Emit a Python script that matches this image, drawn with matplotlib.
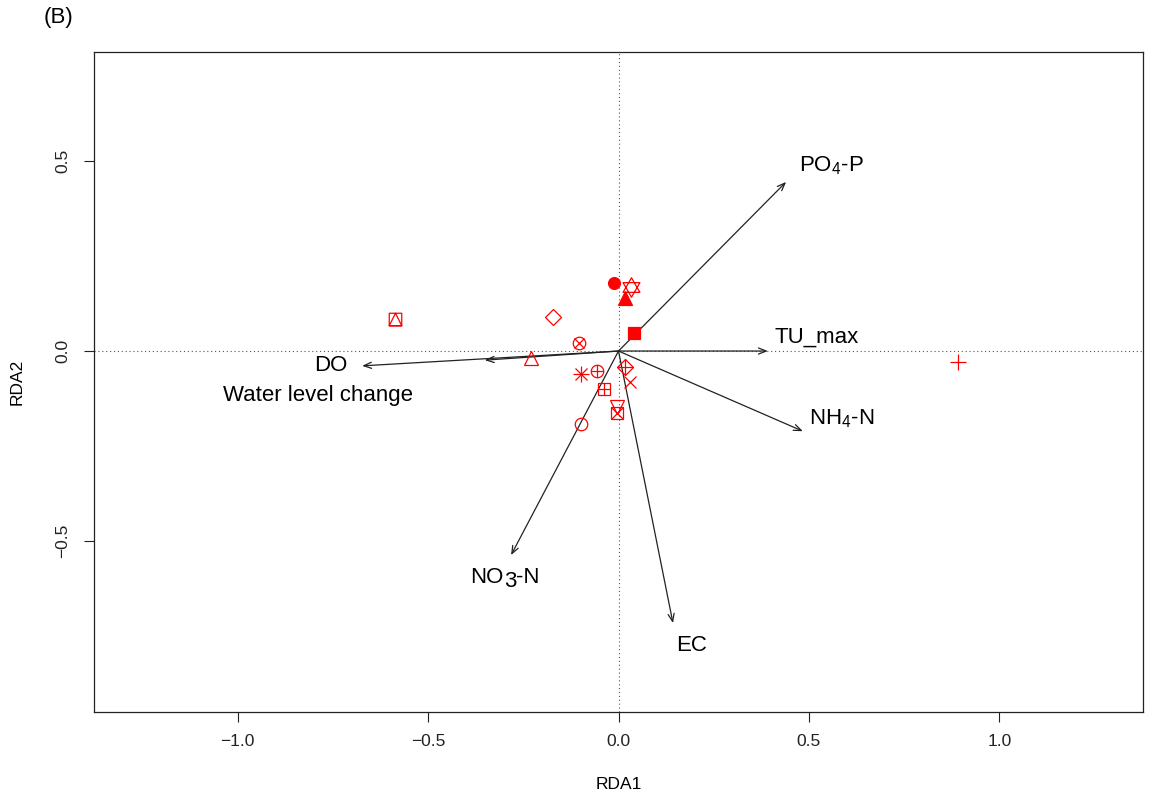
import numpy as np
import matplotlib
matplotlib.use("Agg")
import matplotlib.pyplot as plt
from matplotlib.path import Path
from matplotlib.font_manager import FontProperties

plt.rcParams['font.family'] = ['Liberation Sans', 'DejaVu Sans']
plt.rcParams['mathtext.fontset'] = 'custom'
plt.rcParams['mathtext.rm'] = 'Liberation Sans'
plt.rcParams['mathtext.it'] = 'Liberation Sans:italic'
plt.rcParams['axes.unicode_minus'] = True

# ---------------- data ----------------
# site scores (RDA1, RDA2) and R pch symbol codes
site_x = [-0.587, -0.172, -0.104, -0.230, -0.098, -0.056, -0.038, -0.098,
          0.017, 0.030, -0.004, -0.004, -0.012, 0.033, 0.017, 0.041, 0.891]
site_y = [0.084, 0.089, 0.021, -0.018, -0.061, -0.053, -0.100, -0.192,
          -0.042, -0.082, -0.147, -0.163, 0.179, 0.168, 0.139, 0.047, -0.029]
site_pch = [14, 5, 13, 2, 8, 10, 12, 1, 9, 4, 6, 7, 16, 11, 17, 15, 3]

# environmental vectors (arrow tips)
env_names = ["PO$_4$-P", "TU_max", "NH$_4$-N", "EC", "NO3-N", "DO", "Water level change"]
env_x = [0.440, 0.392, 0.484, 0.143, -0.282, -0.673, -0.351]
env_y = [0.445, 0.000, -0.211, -0.716, -0.537, -0.039, -0.024]

x_ticks = [-1.0, -0.5, 0.0, 0.5, 1.0]
y_ticks = [-0.5, 0.0, 0.5]

# label anchor positions (layout)
lab_pos = [(0.560, 0.489), (0.521, 0.037), (0.586, -0.179), (0.193, -0.776),
           (-0.298, -0.597), (-0.755, -0.039), (-0.789, -0.116)]

# ---------------- figure ----------------
W, H, DPI = 1157, 797, 100
fig = plt.figure(figsize=(W / DPI, H / DPI), dpi=DPI)
ax = fig.add_axes([94 / W, 1 - 712 / H, (1143 - 94) / W, (712 - 52) / H])
ax.set_xlim(-1.377, 1.377)
ax.set_ylim(-0.95, 0.787)

# reference lines
ax.axhline(0, color='#555555', lw=0.8, ls=(0, (1, 2.5)), zorder=1)
ax.axvline(0, color='#555555', lw=0.8, ls=(0, (1, 2.5)), zorder=1)

# custom marker paths
sq = [(-1, -1), (1, -1), (1, 1), (-1, 1), (-1, -1)]
tri_in_sq = [(-1, -1), (0, 1), (1, -1), (-1, -1)]
pch14 = Path(sq + tri_in_sq,
             [Path.MOVETO] + [Path.LINETO] * 3 + [Path.CLOSEPOLY] +
             [Path.MOVETO] + [Path.LINETO] * 2 + [Path.CLOSEPOLY])
h = np.sqrt(3) / 2
up = [(0, 1), (-h, -0.5), (h, -0.5), (0, 1)]
dn = [(0, -1), (-h, 0.5), (h, 0.5), (0, -1)]
pch11 = Path(up + dn,
             [Path.MOVETO] + [Path.LINETO] * 2 + [Path.CLOSEPOLY] +
             [Path.MOVETO] + [Path.LINETO] * 2 + [Path.CLOSEPOLY])

RED = '#FF0000'
MEW = 0.9

def mk(x, y, marker, ms, filled=False):
    ax.plot([x], [y], ls='none', marker=marker, ms=ms,
            mfc=RED if filled else 'none', mec=RED, mew=MEW, zorder=4)

for x, y, p in zip(site_x, site_y, site_pch):
    if p == 1:
        mk(x, y, 'o', 9)
    elif p == 2:
        mk(x, y, '^', 10)
    elif p == 3:
        mk(x, y, '+', 12)
    elif p == 4:
        mk(x, y, 'x', 8.5)
    elif p == 5:
        mk(x, y, 'D', 8.5)
    elif p == 6:
        mk(x, y, 'v', 10)
    elif p == 7:
        mk(x, y, 's', 8.5); mk(x, y, 'x', 8.5)
    elif p == 8:
        mk(x, y, '+', 12); mk(x, y, 'x', 8.5)
    elif p == 9:
        mk(x, y, 'D', 8.5); mk(x, y, '+', 12)
    elif p == 10:
        mk(x, y, 'o', 9); mk(x, y, '+', 9)
    elif p == 11:
        mk(x, y, pch11, 14)
    elif p == 12:
        mk(x, y, 's', 8.5); mk(x, y, '+', 8.5)
    elif p == 13:
        mk(x, y, 'o', 9); mk(x, y, 'x', 6.5)
    elif p == 14:
        mk(x, y, pch14, 9)
    elif p == 15:
        mk(x, y, 's', 8.5, filled=True)
    elif p == 16:
        mk(x, y, 'o', 8.5, filled=True)
    elif p == 17:
        mk(x, y, '^', 10, filled=True)

# arrows
for ex, ey in zip(env_x, env_y):
    ax.annotate('', xy=(ex, ey), xytext=(0, 0),
                arrowprops=dict(arrowstyle='->,head_length=0.55,head_width=0.22',
                                color='#222222', lw=0.9, shrinkA=0, shrinkB=0),
                zorder=3)

LAB_FS = 16
renderer = fig.canvas.get_renderer()
fp = FontProperties(family='Liberation Sans', size=LAB_FS)

def tw(s):
    return renderer.get_text_width_height_descent(s, fp, ismath=False)[0] * 72 / DPI

for name, (lx, ly) in zip(env_names, lab_pos):
    if name == "NO3-N":
        parts = ["NO", "3", "-N"]
        dys = [0, -2.5, 0]
        widths = [tw(p) for p in parts]
        start = -sum(widths) / 2
        for p, w, dy in zip(parts, widths, dys):
            ax.annotate(p, xy=(lx, ly), xytext=(start, dy), textcoords='offset points',
                        ha='left', va='center', fontsize=LAB_FS, color='black', zorder=5)
            start += w
    else:
        ax.text(lx, ly, name, ha='center', va='center', fontsize=LAB_FS,
                color='black', zorder=5)

# axes styling (R-like)
for s in ax.spines.values():
    s.set_color('#222222')
    s.set_linewidth(0.9)
ax.set_xticks(x_ticks)
ax.set_yticks(y_ticks)
ax.set_xticklabels([f"{v:.1f}".replace('-', '\u2212') for v in x_ticks])
ax.set_yticklabels([f"{v:.1f}".replace('-', '\u2212') for v in y_ticks],
                   rotation=90, va='center')
ax.tick_params(axis='both', direction='out', length=7, width=0.8,
               labelsize=12.5, colors='#222222')
ax.tick_params(axis='x', pad=9)
ax.tick_params(axis='y', pad=10)
ax.set_xlabel('RDA1', fontsize=12.5, labelpad=20)
ax.set_ylabel('RDA2', fontsize=12.5, labelpad=22)

fig.text(44 / W, 1 - 18 / H, '(B)', fontsize=16, ha='left', va='center')

fig.savefig('out.png', dpi=DPI)
